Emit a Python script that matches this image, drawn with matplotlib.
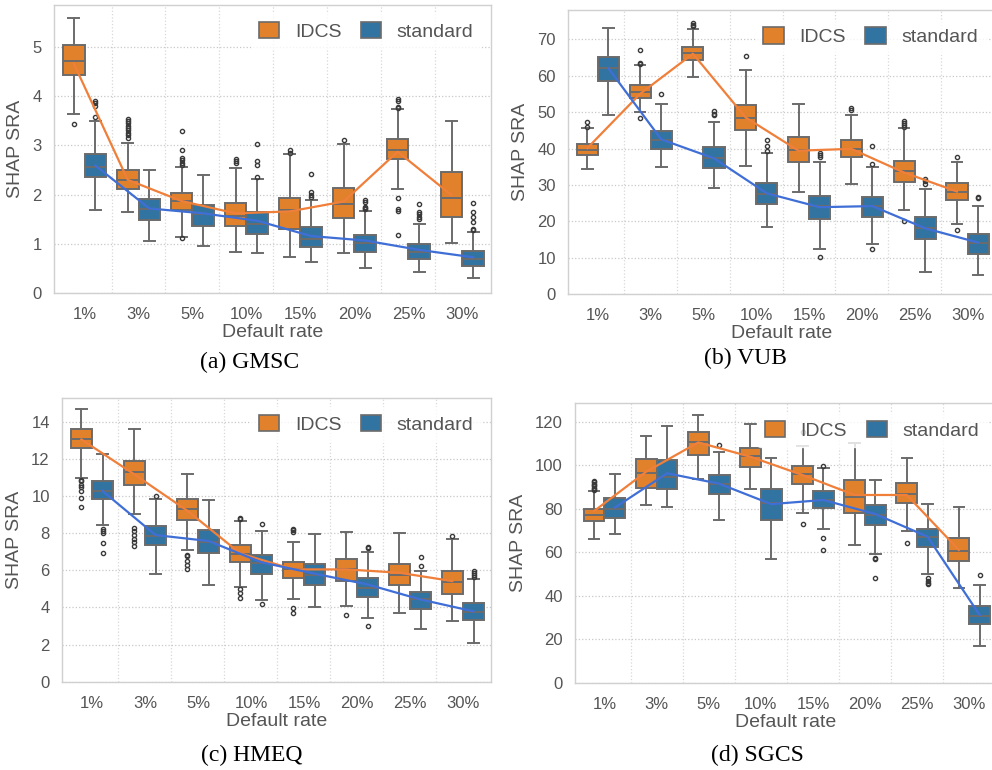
import numpy as np
import matplotlib
matplotlib.use("Agg")
import matplotlib.pyplot as plt
from matplotlib.patches import Patch

categories = ['1%', '3%', '5%', '10%', '15%', '20%', '25%', '30%']
series_names = ['IDCS', 'standard']

# ---------------- GMSC ----------------
gmsc_idcs_lo = [3.64, 1.64, 1.14, 0.83, 0.73, 0.81, 2.11, 1.01]
gmsc_idcs_q1 = [4.42, 2.11, 1.69, 1.36, 1.31, 1.52, 2.72, 1.54]
gmsc_idcs_med = [4.70, 2.29, 1.88, 1.57, 1.68, 1.80, 2.91, 1.93]
gmsc_idcs_q3 = [5.03, 2.50, 2.04, 1.84, 1.93, 2.14, 3.13, 2.45]
gmsc_idcs_hi = [5.59, 3.05, 2.57, 2.54, 2.82, 3.02, 3.73, 3.49]
gmsc_idcs_fliers = [[3.43], [3.15, 3.2, 3.25, 3.3, 3.35, 3.4, 3.45, 3.5, 3.53],
                    [3.28, 2.9, 2.75, 2.7, 2.65, 2.6, 1.13], [2.72, 2.68, 2.65],
                    [2.9, 2.85], [3.1], [3.93, 3.9, 3.77, 3.75, 1.94, 1.70, 1.66, 1.18], []]
gmsc_idcs_mean = [4.66, 2.30, 1.87, 1.62, 1.66, 1.86, 2.87, 1.99]

gmsc_std_lo = [1.69, 1.06, 0.95, 0.81, 0.63, 0.51, 0.43, 0.32]
gmsc_std_q1 = [2.35, 1.49, 1.36, 1.20, 0.94, 0.84, 0.69, 0.55]
gmsc_std_med = [2.57, 1.70, 1.60, 1.41, 1.10, 1.02, 0.84, 0.70]
gmsc_std_q3 = [2.82, 1.92, 1.78, 1.65, 1.34, 1.18, 0.99, 0.85]
gmsc_std_hi = [3.50, 2.49, 2.39, 2.32, 1.89, 1.66, 1.41, 1.24]
gmsc_std_fliers = [[3.9, 3.85, 3.8, 3.57], [], [], [3.02, 2.68, 2.6, 2.35],
                   [2.42, 2.05, 2.0, 1.95], [1.9, 1.85, 1.75, 1.72, 1.7],
                   [1.8, 1.65, 1.6, 1.55, 1.5], [1.83, 1.65, 1.55, 1.45, 1.3, 1.28]]
gmsc_std_mean = [2.59, 1.72, 1.62, 1.47, 1.16, 1.07, 0.88, 0.73]

# ---------------- VUB ----------------
vub_idcs_lo = [34.3, 50.0, 59.6, 35.3, 28.0, 30.3, 23.0, 19.3]
vub_idcs_q1 = [38.1, 53.8, 64.3, 45.2, 36.2, 37.6, 30.8, 25.8]
vub_idcs_med = [39.6, 55.6, 66.1, 48.4, 39.6, 40.0, 33.7, 28.2]
vub_idcs_q3 = [41.2, 57.5, 67.8, 52.0, 43.2, 42.4, 36.7, 30.4]
vub_idcs_hi = [45.7, 62.9, 72.8, 61.5, 52.2, 49.2, 45.6, 36.2]
vub_idcs_fliers = [[47.2, 45.8], [67.0, 63.5, 63.2, 48.3], [74.5, 74.0, 73.7], [65.5], [],
                   [51.0, 50.6], [47.5, 47.0, 46.5, 46.0, 20.1], [37.7, 17.7]]
vub_idcs_mean = [40.1, 55.0, 66.0, 48.5, 39.4, 39.9, 33.4, 28.2]

vub_std_lo = [49.3, 34.8, 29.3, 18.5, 12.4, 13.7, 6.2, 5.3]
vub_std_q1 = [58.6, 39.8, 34.7, 24.8, 20.7, 21.3, 15.2, 11.0]
vub_std_med = [62.2, 42.4, 37.3, 27.6, 24.1, 24.2, 18.2, 14.2]
vub_std_q3 = [65.0, 44.9, 40.3, 30.4, 27.0, 26.8, 21.1, 16.6]
vub_std_hi = [73.0, 52.2, 47.4, 38.7, 36.4, 35.0, 29.0, 24.3]
vub_std_fliers = [[], [55.0], [50.3, 49.6, 49.2], [42.2, 40.6, 39.2], [38.7, 38.2, 37.6, 10.3],
                  [40.7, 35.7, 12.5], [31.5, 31.0, 30.3], [26.8, 26.4]]
vub_std_mean = [62.0, 42.5, 37.3, 27.7, 23.9, 24.2, 18.1, 14.2]

# ---------------- HMEQ ----------------
hmeq_idcs_lo = [10.99, 9.03, 7.09, 5.12, 4.47, 4.08, 3.70, 3.27]
hmeq_idcs_q1 = [12.57, 10.61, 8.71, 6.46, 5.57, 5.44, 5.19, 4.70]
hmeq_idcs_med = [13.10, 11.31, 9.28, 6.86, 6.07, 6.05, 5.73, 5.39]
hmeq_idcs_q3 = [13.64, 11.90, 9.86, 7.34, 6.46, 6.61, 6.36, 5.94]
hmeq_idcs_hi = [14.67, 13.59, 11.19, 8.65, 7.52, 8.06, 8.01, 7.68]
hmeq_idcs_fliers = [[10.85, 10.8, 10.6, 10.5, 10.3, 9.9, 9.4], [8.3, 8.1, 7.9, 7.7, 7.5, 7.3],
                    [6.8, 6.75, 6.5, 6.3, 6.05], [8.8, 8.75, 5.0, 4.8, 4.5],
                    [8.25, 8.15, 8.05, 3.95, 3.7], [3.6], [], [7.85]]
hmeq_idcs_mean = [13.05, 11.17, 9.21, 6.91, 6.05, 6.05, 5.87, 5.42]

hmeq_std_lo = [8.42, 5.82, 5.22, 4.40, 4.00, 3.43, 2.84, 2.10]
hmeq_std_q1 = [9.82, 7.34, 6.91, 5.80, 5.19, 4.54, 3.90, 3.32]
hmeq_std_med = [10.27, 7.86, 7.50, 6.37, 5.75, 5.06, 4.43, 3.73]
hmeq_std_q3 = [10.81, 8.40, 8.15, 6.84, 6.34, 5.57, 4.83, 4.22]
hmeq_std_hi = [12.28, 9.86, 9.80, 8.13, 7.94, 7.00, 5.98, 5.51]
hmeq_std_fliers = [[8.25, 8.1, 8.0, 7.45, 6.95], [10.0], [], [8.5, 4.2], [],
                   [7.25, 7.2, 2.98], [6.7, 6.25], [5.95, 5.85, 5.75, 5.65]]
hmeq_std_mean = [10.27, 7.90, 7.58, 6.43, 5.82, 5.24, 4.43, 3.79]

# ---------------- SGCS ----------------
sgcs_idcs_lo = [66.3, 81.8, 93.9, 89.3, 78.1, 63.5, 69.7, 43.7]
sgcs_idcs_q1 = [74.4, 89.5, 105.0, 99.1, 91.3, 78.3, 82.7, 56.0]
sgcs_idcs_med = [77.0, 96.4, 110.9, 104.2, 95.9, 85.3, 86.8, 60.6]
sgcs_idcs_q3 = [79.9, 102.8, 115.5, 108.2, 99.9, 93.3, 92.1, 66.6]
sgcs_idcs_hi = [88.2, 113.7, 123.2, 119.1, 109.1, 110.2, 103.4, 80.7]
sgcs_idcs_fliers = [[93.0, 92.3, 91.6, 91.0, 90.4, 89.8, 89.2, 88.7], [], [], [],
                    [115.2, 73.0], [], [64.3], []]
sgcs_idcs_mean = [79.0, 97.1, 110.6, 104.0, 95.6, 86.4, 86.4, 61.1]

sgcs_std_lo = [68.6, 80.7, 74.7, 56.8, 70.6, 59.1, 50.0, 16.9]
sgcs_std_q1 = [75.6, 89.0, 86.7, 74.9, 80.4, 72.4, 62.3, 26.9]
sgcs_std_med = [79.8, 94.8, 91.3, 82.6, 84.1, 77.3, 67.2, 30.8]
sgcs_std_q3 = [84.9, 102.3, 95.8, 89.3, 88.1, 81.6, 70.9, 35.4]
sgcs_std_hi = [96.1, 118.3, 106.3, 103.3, 98.7, 93.1, 82.1, 44.8]
sgcs_std_fliers = [[], [], [109.5], [], [99.6, 66.5, 61.3], [57.5, 57.0, 48.3],
                   [48.0, 47.0, 46.0, 45.5], [49.5]]
sgcs_std_mean = [80.6, 96.4, 91.6, 82.2, 84.1, 77.6, 67.2, 31.1]

panel_titles = ['(a) GMSC', '(b) VUB', '(c) HMEQ', '(d) SGCS']
panel_yticks = [[0, 1, 2, 3, 4, 5], [0, 10, 20, 30, 40, 50, 60, 70],
                [0, 2, 4, 6, 8, 10, 12, 14], [0, 20, 40, 60, 80, 100, 120]]
panel_ylim = [(0, 5.85), (0, 78.0), (0, 15.3), (0, 128.6)]

# ---------------- style ----------------
box_colors = ['#e1812c', '#3274a1']
line_colors = ['#f07f3a', '#3f6fd6']
gray = '#6b6b6b'
text_gray = '#555555'
sans = ['Liberation Sans', 'DejaVu Sans']
serif = ['Liberation Serif', 'DejaVu Serif']

plt.rcParams['font.family'] = sans

def make_stats(lo, q1, med, q3, hi, fl):
    return [dict(whislo=a, q1=b, med=c, q3=d, whishi=e, fliers=f)
            for a, b, c, d, e, f in zip(lo, q1, med, q3, hi, fl)]

panels = [
    (make_stats(gmsc_idcs_lo, gmsc_idcs_q1, gmsc_idcs_med, gmsc_idcs_q3, gmsc_idcs_hi, gmsc_idcs_fliers),
     make_stats(gmsc_std_lo, gmsc_std_q1, gmsc_std_med, gmsc_std_q3, gmsc_std_hi, gmsc_std_fliers),
     gmsc_idcs_mean, gmsc_std_mean),
    (make_stats(vub_idcs_lo, vub_idcs_q1, vub_idcs_med, vub_idcs_q3, vub_idcs_hi, vub_idcs_fliers),
     make_stats(vub_std_lo, vub_std_q1, vub_std_med, vub_std_q3, vub_std_hi, vub_std_fliers),
     vub_idcs_mean, vub_std_mean),
    (make_stats(hmeq_idcs_lo, hmeq_idcs_q1, hmeq_idcs_med, hmeq_idcs_q3, hmeq_idcs_hi, hmeq_idcs_fliers),
     make_stats(hmeq_std_lo, hmeq_std_q1, hmeq_std_med, hmeq_std_q3, hmeq_std_hi, hmeq_std_fliers),
     hmeq_idcs_mean, hmeq_std_mean),
    (make_stats(sgcs_idcs_lo, sgcs_idcs_q1, sgcs_idcs_med, sgcs_idcs_q3, sgcs_idcs_hi, sgcs_idcs_fliers),
     make_stats(sgcs_std_lo, sgcs_std_q1, sgcs_std_med, sgcs_std_q3, sgcs_std_hi, sgcs_std_fliers),
     sgcs_idcs_mean, sgcs_std_mean),
]

W, H = 992, 770
fig = plt.figure(figsize=(W / 100, H / 100), dpi=100)
fig.patch.set_facecolor('white')

# axes pixel boxes: left, top, right, bottom
ax_px = [(54.3, 4.7, 491.0, 293.3), (568.3, 10.0, 995.5, 294.3),
         (62.3, 397.7, 491.0, 681.7), (575.3, 403.3, 996.9, 682.7)]
caption_px = [(250, 362), (745, 358), (252, 755), (757, 755)]

x = np.arange(len(categories))
offset = 0.2
for k, (st_i, st_s, mean_i, mean_s) in enumerate(panels):
    l, t, r, b = ax_px[k]
    ax = fig.add_axes([l / W, 1 - b / H, (r - l) / W, (b - t) / H])
    ax.set_facecolor('white')
    for j, (st, pos) in enumerate([(st_i, x - offset), (st_s, x + offset)]):
        ax.bxp(st, positions=pos, widths=0.4, patch_artist=True, manage_ticks=False,
               boxprops=dict(facecolor=box_colors[j], edgecolor=gray, linewidth=1.4),
               medianprops=dict(color=gray, linewidth=1.4),
               whiskerprops=dict(color=gray, linewidth=1.4),
               capprops=dict(color=gray, linewidth=1.4),
               flierprops=dict(marker='o', markersize=3, markerfacecolor='none',
                               markeredgecolor='#3a3a3a', markeredgewidth=1.0),
               zorder=2)
    ax.plot(x - offset, mean_i, color=line_colors[0], linewidth=1.6, zorder=3)
    ax.plot(x + offset, mean_s, color=line_colors[1], linewidth=1.6, zorder=3)

    ax.set_xlim(-0.56, 7.53)
    ax.set_ylim(*panel_ylim[k])
    ax.set_xticks(x)
    ax.set_xticklabels(categories)
    ax.set_xticks(np.arange(0.5, 7.5, 1.0), minor=True)
    ax.set_yticks(panel_yticks[k])
    ax.tick_params(axis='both', which='both', length=0, labelsize=12, colors=text_gray)
    ax.tick_params(axis='x', which='major', pad=10)
    ax.tick_params(axis='y', which='major', pad=9)
    ax.grid(True, axis='y', which='major', color='#c8c8c8', linestyle=':', linewidth=0.9)
    ax.grid(True, axis='x', which='minor', color='#d8d8d8', linestyle=':', linewidth=0.9)
    ax.grid(False, axis='x', which='major')
    ax.set_axisbelow(True)
    for sp in ax.spines.values():
        sp.set_color('#d0d0d0')
        sp.set_linewidth(1.0)
    ax.set_xlabel('Default rate', fontsize=14, color=text_gray, labelpad=1.5)
    ax.set_ylabel('SHAP SRA', fontsize=14, color=text_gray, labelpad=6)

    handles = [Patch(facecolor=box_colors[0], edgecolor=gray, linewidth=1.2),
               Patch(facecolor=box_colors[1], edgecolor=gray, linewidth=1.2)]
    leg = ax.legend(handles, series_names, loc='upper right', ncol=2, fontsize=14,
                    frameon=True, framealpha=0.8, edgecolor='white', fancybox=True,
                    handlelength=1.05, handleheight=0.9, handletextpad=0.8,
                    columnspacing=1.0, borderpad=0.4, borderaxespad=0.5)
    for txt in leg.get_texts():
        txt.set_color(text_gray)

    cx, cy = caption_px[k]
    fig.text(cx / W, 1 - cy / H, panel_titles[k], ha='center', va='center',
             fontsize=17, family=serif, color='black')

fig.savefig('out.png', dpi=100, facecolor='white')
